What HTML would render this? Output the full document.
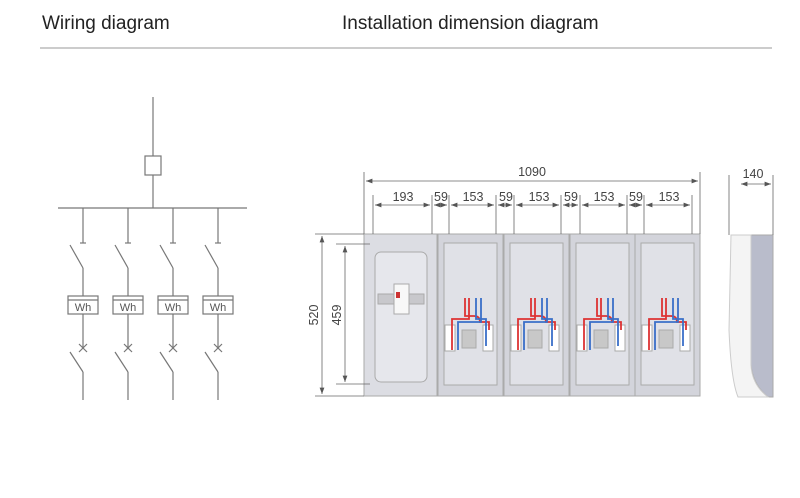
<!DOCTYPE html>
<html><head><meta charset="utf-8"><style>
body{margin:0;background:#fff;width:800px;height:493px;overflow:hidden}
text{font-family:"Liberation Sans",sans-serif}
</style></head><body>
<svg width="800" height="493" viewBox="0 0 800 493" xmlns="http://www.w3.org/2000/svg">
<defs>
<marker id="a" markerWidth="8" markerHeight="6" refX="8" refY="3" orient="auto-start-reverse"><path d="M0,0L8,3L0,6z" fill="#555"/></marker>
</defs>
<text x="42" y="29" font-size="19" fill="#222">Wiring diagram</text>
<text x="342" y="29" font-size="19" fill="#222">Installation dimension diagram</text>
<line x1="40" y1="48" x2="772" y2="48" stroke="#999" stroke-width="1"/>
<g stroke="#777" stroke-width="1.2" fill="none">
<line x1="153" y1="97" x2="153" y2="156"/>
<rect x="145" y="156" width="16" height="19"/>
<line x1="153" y1="175" x2="153" y2="208"/>
<line x1="58" y1="208" x2="247" y2="208"/>
<g id="br">
<line x1="83" y1="208" x2="83" y2="243"/><line x1="80" y1="243" x2="86" y2="243"/>
<line x1="70" y1="245" x2="83" y2="268"/><line x1="83" y1="268" x2="83" y2="296"/>
<rect x="68" y="296" width="30" height="18"/><line x1="68" y1="300" x2="98" y2="300"/>
<line x1="83" y1="314" x2="83" y2="348"/>
<line x1="79" y1="344" x2="87" y2="352"/><line x1="87" y1="344" x2="79" y2="352"/>
<line x1="70" y1="352" x2="83" y2="372"/><line x1="83" y1="372" x2="83" y2="400"/>
</g>
<use href="#br" x="45"/><use href="#br" x="90"/><use href="#br" x="135"/>
</g>
<g font-size="11" fill="#555" text-anchor="middle">
<text x="83" y="311">Wh</text><text x="128" y="311">Wh</text><text x="173" y="311">Wh</text><text x="218" y="311">Wh</text>
</g>
<g stroke="#aaa" stroke-width="1">
<rect x="364" y="234" width="73" height="162" fill="#dcdde3"/>
<rect x="375" y="252" width="52" height="130" rx="6" fill="#e6e7ec"/>
<rect x="378" y="294" width="46" height="10" fill="#c8c8cc"/>
<rect x="394" y="284" width="15" height="30" fill="#f8f8f8"/>
<rect x="396" y="292" width="4" height="6" fill="#c33" stroke="none"/>
<g id="m">
<rect x="438" y="234" width="65" height="162" fill="#d3d4db"/>
<rect x="444" y="243" width="53" height="142" fill="#e0e1e7"/>
<rect x="445" y="325" width="10" height="26" fill="#fff"/>
<rect x="483" y="325" width="10" height="26" fill="#fff"/>
<rect x="462" y="330" width="14" height="18" fill="#c8c8c8"/>
<g fill="none" stroke-width="1.8">
<path d="M465,298V316H474Q480,316 480,322H489V330" stroke="#d33"/>
<path d="M469,298V319H452V350" stroke="#d33"/>
<path d="M476,298V319H486V346" stroke="#3a6fc8"/>
<path d="M481,298V322H458V350" stroke="#3a6fc8"/>
</g>
</g>
<use href="#m" x="66"/><use href="#m" x="132"/><use href="#m" x="197"/>
<path d="M751,235H773V397H768Q753,385 751,365Z" fill="#b9bccb" stroke="#aaa"/>
<path d="M731,235H751V365Q752,385 768,397H738Q731,380 729,330Z" fill="#f4f4f4" stroke="#ccc"/>
</g>
<g stroke="#666" stroke-width="0.8">
<line x1="364" y1="172" x2="364" y2="234"/><line x1="700" y1="172" x2="700" y2="234"/>
<line x1="366" y1="181" x2="698" y2="181" marker-start="url(#a)" marker-end="url(#a)"/>
<line x1="373" y1="195" x2="373" y2="234"/><line x1="432" y1="195" x2="432" y2="234"/>
<line x1="449" y1="195" x2="449" y2="234"/><line x1="496" y1="195" x2="496" y2="234"/>
<line x1="514" y1="195" x2="514" y2="234"/><line x1="561" y1="195" x2="561" y2="234"/>
<line x1="580" y1="195" x2="580" y2="234"/><line x1="627" y1="195" x2="627" y2="234"/>
<line x1="644" y1="195" x2="644" y2="234"/><line x1="692" y1="195" x2="692" y2="234"/>
<g marker-start="url(#a)" marker-end="url(#a)">
<line x1="375" y1="205" x2="430" y2="205"/><line x1="434" y1="205" x2="447" y2="205"/>
<line x1="451" y1="205" x2="494" y2="205"/><line x1="498" y1="205" x2="512" y2="205"/>
<line x1="516" y1="205" x2="559" y2="205"/><line x1="563" y1="205" x2="578" y2="205"/>
<line x1="582" y1="205" x2="625" y2="205"/><line x1="629" y1="205" x2="642" y2="205"/>
<line x1="646" y1="205" x2="690" y2="205"/>
<line x1="322" y1="236" x2="322" y2="394"/><line x1="345" y1="246" x2="345" y2="382"/>
<line x1="741" y1="184" x2="771" y2="184"/>
</g>
<line x1="315" y1="234" x2="364" y2="234"/><line x1="315" y1="396" x2="364" y2="396"/>
<line x1="336" y1="244" x2="370" y2="244"/><line x1="336" y1="384" x2="370" y2="384"/>
<line x1="729" y1="175" x2="729" y2="235"/><line x1="773" y1="175" x2="773" y2="235"/>
</g>
<g font-size="12.5" fill="#444" text-anchor="middle">
<text x="532" y="176">1090</text>
<text x="403" y="201">193</text><text x="441" y="201">59</text><text x="473" y="201">153</text>
<text x="506" y="201">59</text><text x="539" y="201">153</text><text x="571" y="201">59</text>
<text x="604" y="201">153</text><text x="636" y="201">59</text><text x="669" y="201">153</text>
<text x="753" y="178">140</text>
<text transform="translate(318,315) rotate(-90)">520</text>
<text transform="translate(341,315) rotate(-90)">459</text>
</g>
</svg>
</body></html>
